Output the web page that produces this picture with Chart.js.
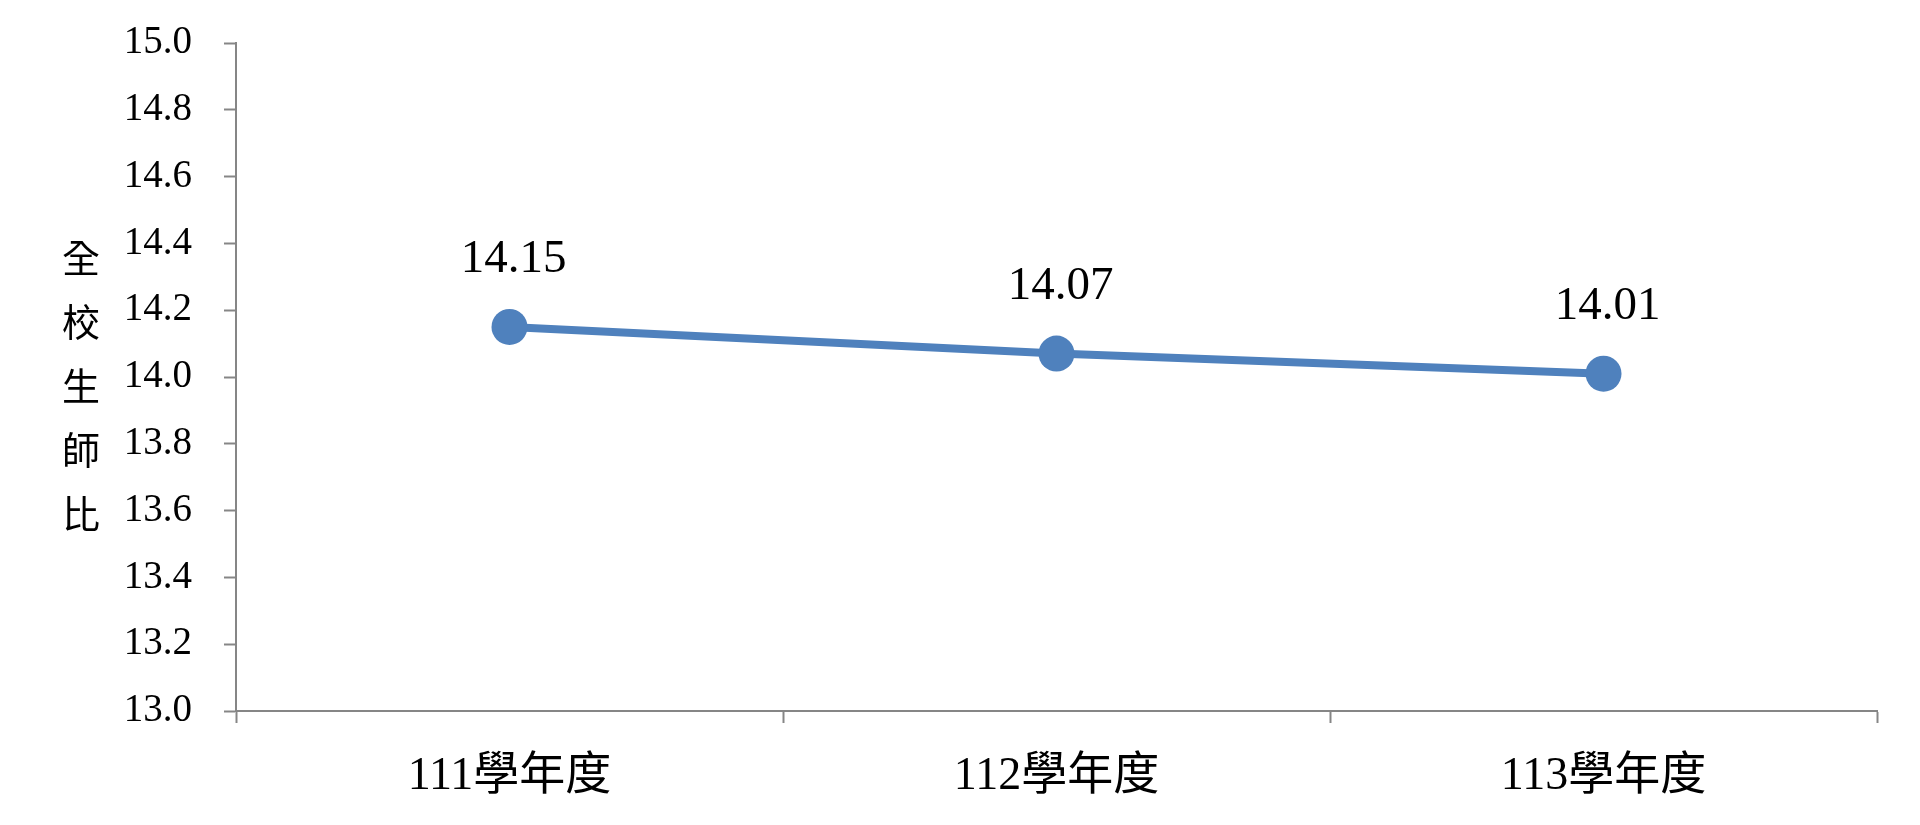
<!DOCTYPE html>
<html>
<head>
<meta charset="utf-8">
<script src="https://cdn.jsdelivr.net/npm/chart.js@4"></script>
<style>
html,body{margin:0;padding:0;background:#fff;overflow:hidden;}
#c{display:block;}
</style>
</head>
<body>
<canvas id="c" width="1920" height="825"></canvas>
<script>
const categories = ["111學年度", "112學年度", "113學年度"];
const ratioValues = [14.15, 14.07, 14.01];
const yAxisTitleChars = ["全", "校", "生", "師", "比"];
const yMin = 13.0, yMax = 15.0, yStep = 0.2;

const SERIF = '"Liberation Serif", "Noto Sans CJK TC", serif';
const AXIS_GRAY = '#868686';
const LINE_BLUE = '#4F81BD';

const valueLabels = {
  id: 'valueLabels',
  afterDatasetsDraw(chart) {
    const ctx = chart.ctx;
    const meta = chart.getDatasetMeta(0);
    ctx.save();
    ctx.font = '47px ' + SERIF;
    ctx.fillStyle = '#000';
    ctx.textAlign = 'center';
    ctx.textBaseline = 'alphabetic';
    meta.data.forEach((pt, i) => {
      ctx.fillText(ratioValues[i].toFixed(2), pt.x + 4, pt.y - 55);
    });
    ctx.restore();
  }
};

const verticalTitle = {
  id: 'verticalTitle',
  afterDraw(chart) {
    const ctx = chart.ctx;
    const ys = chart.scales.y;
    ctx.save();
    ctx.font = '38px ' + SERIF;
    ctx.fillStyle = '#000';
    ctx.textAlign = 'center';
    ctx.textBaseline = 'middle';
    const mid = ys.getPixelForValue(13.96);
    const gap = 64;
    const n = yAxisTitleChars.length;
    yAxisTitleChars.forEach((ch, i) => {
      ctx.fillText(ch, 81, mid + (i - (n - 1) / 2) * gap);
    });
    ctx.restore();
  }
};

new Chart(document.getElementById('c'), {
  type: 'line',
  data: {
    labels: categories,
    datasets: [{
      data: ratioValues,
      borderColor: LINE_BLUE,
      backgroundColor: LINE_BLUE,
      borderWidth: 8,
      pointRadius: 18,
      pointHoverRadius: 18,
      pointBackgroundColor: LINE_BLUE,
      pointBorderColor: LINE_BLUE,
      pointBorderWidth: 0,
      tension: 0,
      fill: false
    }]
  },
  options: {
    responsive: false,
    devicePixelRatio: 1,
    animation: false,
    events: [],
    layout: { padding: { top: 43, right: 43, left: 0, bottom: 0 } },
    plugins: { legend: { display: false }, tooltip: { enabled: false } },
    scales: {
      x: {
        type: 'category',
        offset: true,
        grid: {
          offset: true,
          drawOnChartArea: false,
          drawTicks: true,
          tickLength: 12,
          tickWidth: 2,
          tickColor: AXIS_GRAY
        },
        border: { display: true, color: AXIS_GRAY, width: 2 },
        ticks: {
          font: { family: SERIF, size: 46 },
          color: '#000',
          padding: 26,
          maxRotation: 0
        },
        afterFit(scale) { scale.height = 114; scale.paddingLeft = 0; scale.paddingRight = 0; }
      },
      y: {
        min: yMin,
        max: yMax,
        grid: {
          drawOnChartArea: false,
          drawTicks: true,
          tickLength: 12,
          tickWidth: 2,
          tickColor: AXIS_GRAY
        },
        border: { display: true, color: AXIS_GRAY, width: 2 },
        ticks: {
          stepSize: yStep,
          font: { family: SERIF, size: 39 },
          color: '#000',
          padding: 32,
          callback: (v) => Number(v).toFixed(1)
        },
        afterFit(scale) { scale.width = 236; scale.paddingTop = 0; scale.paddingBottom = 0; }
      }
    }
  },
  plugins: [valueLabels, verticalTitle]
});
</script>
</body>
</html>
